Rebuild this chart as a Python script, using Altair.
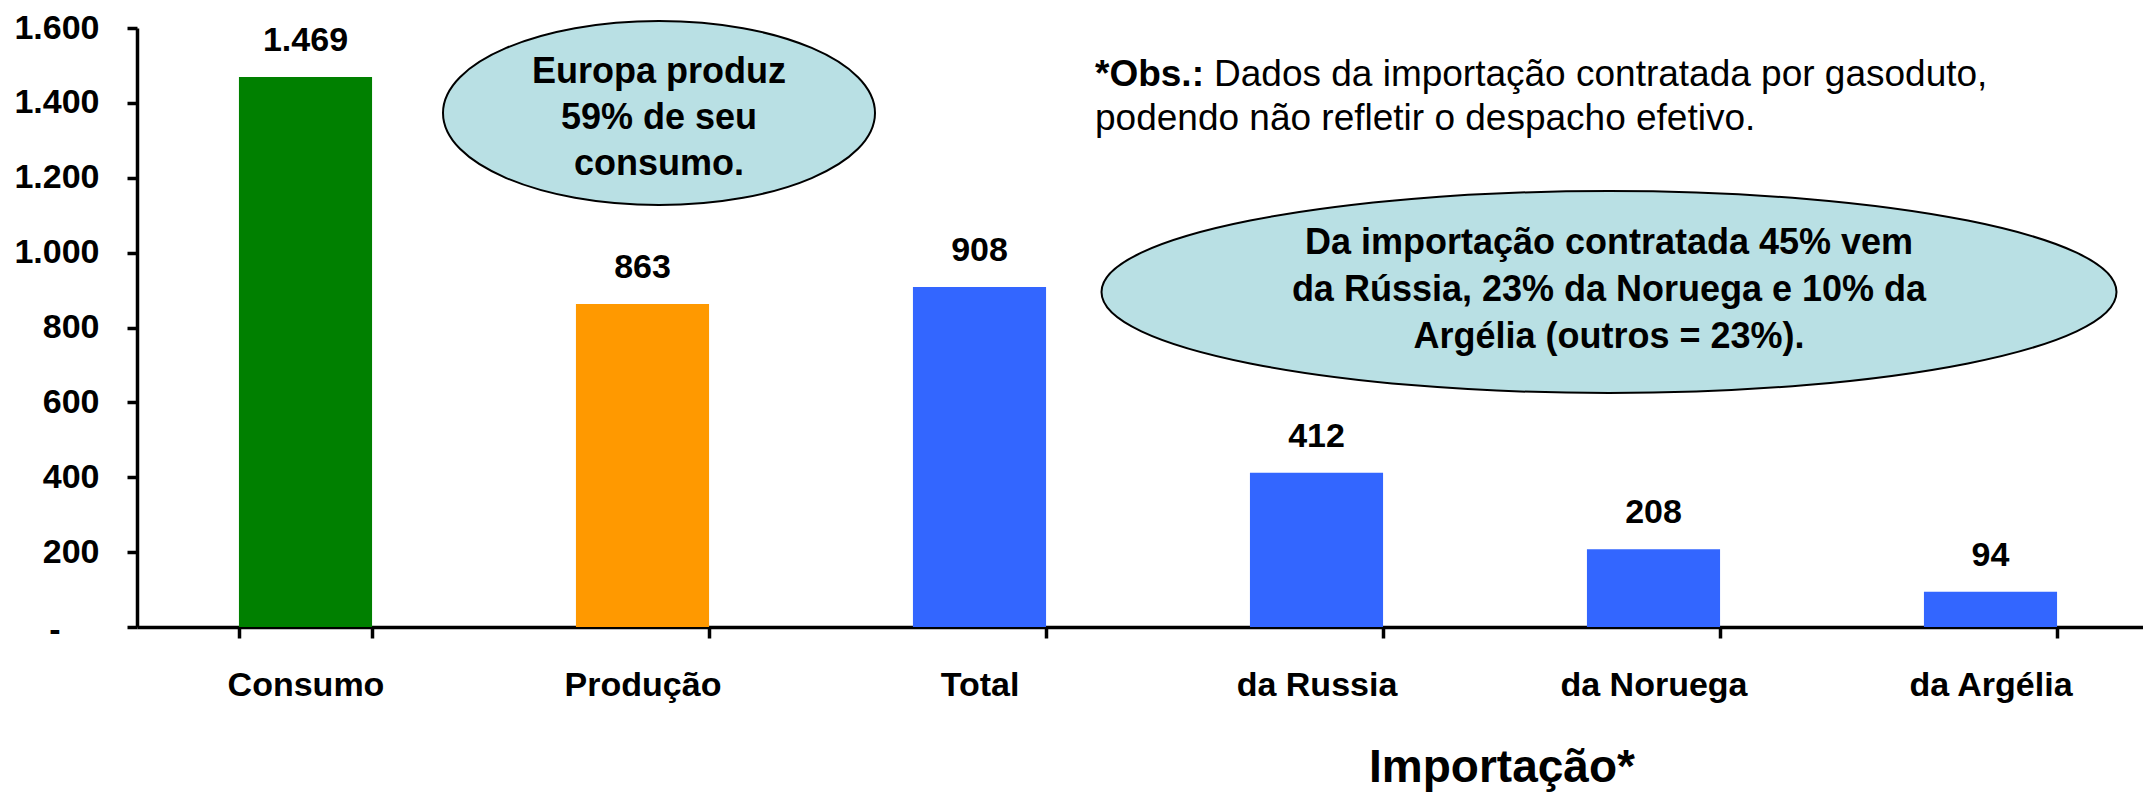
import altair as alt
import pandas as pd

# ---- data ----
categories = ["Consumo", "Produção", "Total", "da Russia", "da Noruega", "da Argélia"]
values = [1469, 863, 908, 412, 208, 94]
bar_colors = ["#008000", "#FF9900", "#3366FF", "#3366FF", "#3366FF", "#3366FF"]
y_ticks = [0, 200, 400, 600, 800, 1000, 1200, 1400, 1600]
zero_label = "-"

note_europa = ["Europa produz", "59% de seu", "consumo."]
note_import = ["Da importação contratada 45% vem",
               "da Rússia, 23% da Noruega e 10% da",
               "Argélia (outros = 23%)."]
obs_bold = "*Obs.:"
obs_line1 = "Dados da importação contratada por gasoduto,"
obs_line2 = "podendo não refletir o despacho efetivo."
group_label = "Importação*"

FONT = "Liberation Sans"
ELL_FILL = "#B9E0E4"

df = pd.DataFrame({"cat": categories, "v": values})

x_enc = alt.X(
    "cat:N", sort=categories, title=None,
    scale=alt.Scale(range=[0, 2022], paddingInner=0.605, paddingOuter=0.3025),
    axis=alt.Axis(labelAngle=0, labelFont=FONT, labelFontSize=34, labelFontWeight="bold",
                  labelColor="black", labelPadding=30, labelLimit=400,
                  tickSize=11, tickBand="extent", tickColor="black", tickWidth=3.5,
                  domainColor="black", domainWidth=3.5),
)
y_enc = alt.Y(
    "v:Q", title=None,
    scale=alt.Scale(domain=[0, 1600], nice=False),
    axis=alt.Axis(values=y_ticks, grid=False,
                  labelExpr="datum.value == 0 ? '' : replace(format(datum.value, ','), ',', '.')",
                  labelFont=FONT, labelFontSize=34, labelFontWeight="bold", labelColor="black",
                  labelPadding=28, tickSize=10, tickColor="black", tickWidth=3.5,
                  domainColor="black", domainWidth=3.5),
)

base = alt.Chart(df)

bars = base.mark_bar().encode(
    x=x_enc, y=y_enc,
    color=alt.Color("cat:N", scale=alt.Scale(domain=categories, range=bar_colors), legend=None),
)

labels = base.transform_calculate(
    lbl="replace(format(datum.v, ','), ',', '.')"
).mark_text(font=FONT, fontSize=34, fontWeight="bold", color="black",
            baseline="alphabetic", dy=-26).encode(
    x=alt.X("cat:N", sort=categories), y="v:Q", text="lbl:N"
)


def one_row():
    return pd.DataFrame({"a": [0]})


# "-" label of the zero tick, placed further left as in the original
zero_tick = alt.Chart(one_row()).mark_text(
    text=zero_label, font=FONT, fontSize=34, fontWeight="bold", color="black",
    align="center", baseline="middle", dy=4
).encode(x=alt.value(-82), y=alt.datum(0))


def ellipse(cx, cy, w, h):
    r = h / w
    k = 0.5523
    path = (f"M -1 0 C -1 {-k*r:.4f} {-k:.4f} {-r:.4f} 0 {-r:.4f} "
            f"C {k:.4f} {-r:.4f} 1 {-k*r:.4f} 1 0 "
            f"C 1 {k*r:.4f} {k:.4f} {r:.4f} 0 {r:.4f} "
            f"C {-k:.4f} {r:.4f} -1 {k*r:.4f} -1 0 Z")
    return alt.Chart(one_row()).mark_point(
        shape=path, size=w * w, filled=True, fill=ELL_FILL, stroke="black",
        strokeWidth=2, opacity=1, fillOpacity=1, strokeOpacity=1
    ).encode(x=alt.value(cx), y=alt.value(cy))


def text(txt, x, y, size, weight="bold", align="center", baseline="middle", line_height=None):
    kw = dict(text=txt, font=FONT, fontSize=size, fontWeight=weight, color="black",
              align=align, baseline=baseline)
    if line_height is not None:
        kw["lineHeight"] = line_height
    return alt.Chart(one_row()).mark_text(**kw).encode(x=alt.value(x), y=alt.value(y))


# plot origin is at page (137, 28)
ell1 = ellipse(522, 85, 432, 184)
txt1 = text(note_europa, 522, 44, 36, line_height=46)
ell2 = ellipse(1472, 264, 1015, 202)
txt2 = text(note_import, 1472, 215, 36, line_height=47)

obs1b = text(obs_bold, 958, 58, 37, weight="bold", align="left", baseline="alphabetic")
obs1 = text(obs_line1, 1077, 58, 37, weight="normal", align="left", baseline="alphabetic")
obs2 = text(obs_line2, 958, 102, 37, weight="normal", align="left", baseline="alphabetic")

grp = text(group_label, 1365, 740, 46)

chart = alt.layer(
    bars, labels, zero_tick, ell1, txt1, ell2, txt2, obs1b, obs1, obs2, grp
).properties(
    width=2006, height=599,
    autosize=alt.AutoSizeParams(type="none"),
    padding={"left": 129, "top": 20, "right": 0, "bottom": 166},
).configure_view(strokeWidth=0)

chart.save("out.html", embed_options={"renderer": "svg", "actions": False})
